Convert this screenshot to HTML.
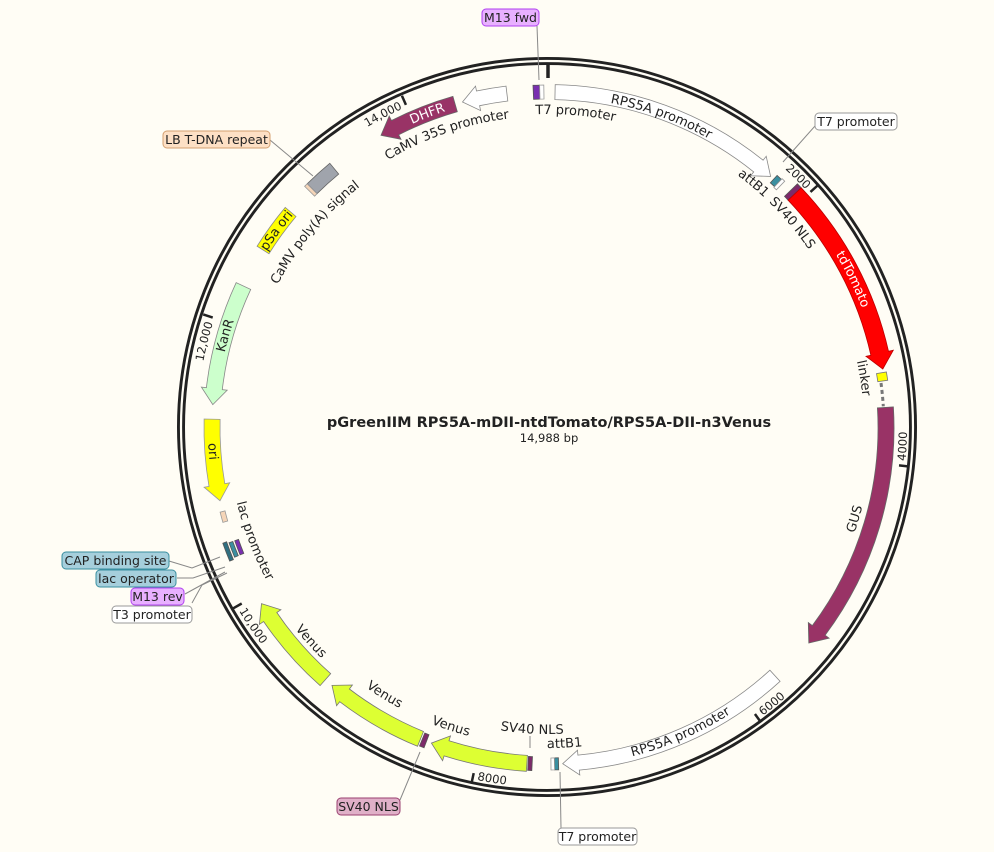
<!DOCTYPE html>
<html><head><meta charset="utf-8">
<style>
html,body{margin:0;padding:0;background:#fffdf5;}
svg{display:block;}
text{font-family:"DejaVu Sans","Liberation Sans",sans-serif;fill:#222;}
.l{font-size:13px;}
.b{font-size:12.5px;}
.t{font-size:11.5px;}
.w{fill:#fff;font-size:13px;}
</style></head>
<body>
<svg id="s" width="994" height="852" viewBox="0 0 994 852" xmlns="http://www.w3.org/2000/svg">
<rect width="994" height="852" fill="#fffdf5"/>
<circle cx="547" cy="427" r="366" fill="none" stroke="#222" stroke-width="8"/>
<circle cx="547" cy="427" r="366" fill="none" stroke="#fffdf5" stroke-width="2.2"/>
<g id="ticks" stroke="#222" stroke-width="2.5"></g>
<defs id="defs"></defs>
<g id="feat" stroke-width="1"></g>
<path id="dash" fill="none" stroke="#777" stroke-width="3" stroke-dasharray="4,3"/>

<g stroke="#888" stroke-width="1" fill="none">
<line x1="537" y1="26" x2="539" y2="80"/>
<line x1="815" y1="126" x2="783" y2="162"/>
<line x1="560" y1="772" x2="561" y2="828"/>
<line x1="530" y1="748" x2="530" y2="736"/>
<line x1="400" y1="800" x2="420" y2="752"/>
<line x1="270" y1="140" x2="313" y2="176"/>
<polyline points="169,561 192,568 220,557"/>
<polyline points="177,578 193,578 225,567"/>
<polyline points="185,594 225,572"/>
<polyline points="192,603 202,585 227,573"/>
</g>

<rect x="482" y="9" width="57" height="17" rx="4" fill="#e8b0ff" stroke="#b040f0"/>
<text class="b" x="510.5" y="22" text-anchor="middle">M13 fwd</text>
<rect x="815" y="113" width="82" height="17" rx="4" fill="#fff" stroke="#999"/>
<text class="b" x="856" y="126" text-anchor="middle">T7 promoter</text>
<rect x="163" y="131" width="107" height="17" rx="4" fill="#fde0c5" stroke="#d4a070"/>
<text class="b" x="216.5" y="144" text-anchor="middle">LB T-DNA repeat</text>
<rect x="62" y="552" width="107" height="17" rx="4" fill="#a6cfdc" stroke="#3a8fa0"/>
<text class="b" x="115.5" y="565" text-anchor="middle">CAP binding site</text>
<rect x="96" y="570" width="80" height="17" rx="4" fill="#a6cfdc" stroke="#3a8fa0"/>
<text class="b" x="136" y="583" text-anchor="middle">lac operator</text>
<rect x="131" y="588" width="53" height="17" rx="4" fill="#e8b0ff" stroke="#b040f0"/>
<text class="b" x="157.5" y="601" text-anchor="middle">M13 rev</text>
<rect x="112" y="606" width="80" height="17" rx="4" fill="#fff" stroke="#999"/>
<text class="b" x="152" y="619" text-anchor="middle">T3 promoter</text>
<rect x="337" y="798" width="63" height="17" rx="4" fill="#e0b0c8" stroke="#9a4070"/>
<text class="b" x="368.5" y="811" text-anchor="middle">SV40 NLS</text>
<rect x="558" y="828" width="79" height="17" rx="4" fill="#fff" stroke="#999"/>
<text class="b" x="597.5" y="841" text-anchor="middle">T7 promoter</text>

<text class="l" dominant-baseline="central"><textPath href="#p_t7a" startOffset="50%" text-anchor="middle">T7 promoter</textPath></text>
<text class="l" dominant-baseline="central"><textPath href="#p_rps1" startOffset="50%" text-anchor="middle">RPS5A promoter</textPath></text>
<text class="l" dominant-baseline="central"><textPath href="#p_att1" startOffset="50%" text-anchor="middle">attB1</textPath></text>
<text class="l" dominant-baseline="central"><textPath href="#p_sv1" startOffset="50%" text-anchor="middle">SV40 NLS</textPath></text>
<text class="w" dominant-baseline="central"><textPath href="#p_td" startOffset="50%" text-anchor="middle">tdTomato</textPath></text>
<text class="l" dominant-baseline="central"><textPath href="#p_link" startOffset="50%" text-anchor="middle">linker</textPath></text>
<text class="l" dominant-baseline="central"><textPath href="#p_gus" startOffset="50%" text-anchor="middle">GUS</textPath></text>
<text class="l" dominant-baseline="central"><textPath href="#p_rps2" startOffset="50%" text-anchor="middle">RPS5A promoter</textPath></text>
<text class="l" dominant-baseline="central"><textPath href="#p_att2" startOffset="50%" text-anchor="middle">attB1</textPath></text>
<text class="l" dominant-baseline="central"><textPath href="#p_sv2" startOffset="50%" text-anchor="middle">SV40 NLS</textPath></text>
<text class="l" dominant-baseline="central"><textPath href="#p_v1" startOffset="50%" text-anchor="middle">Venus</textPath></text>
<text class="l" dominant-baseline="central"><textPath href="#p_v2" startOffset="50%" text-anchor="middle">Venus</textPath></text>
<text class="l" dominant-baseline="central"><textPath href="#p_v3" startOffset="50%" text-anchor="middle">Venus</textPath></text>
<text class="l" dominant-baseline="central"><textPath href="#p_lac" startOffset="50%" text-anchor="middle">lac promoter</textPath></text>
<text class="l" dominant-baseline="central"><textPath href="#p_ori" startOffset="50%" text-anchor="middle">ori</textPath></text>
<text class="l" dominant-baseline="central"><textPath href="#p_kan" startOffset="50%" text-anchor="middle">KanR</textPath></text>
<text class="l" dominant-baseline="central"><textPath href="#p_psa" startOffset="50%" text-anchor="middle">pSa ori</textPath></text>
<text class="l" dominant-baseline="central"><textPath href="#p_camv" startOffset="50%" text-anchor="middle">CaMV poly(A) signal</textPath></text>
<text class="w" dominant-baseline="central"><textPath href="#p_dhfr" startOffset="50%" text-anchor="middle">DHFR</textPath></text>
<text class="l" dominant-baseline="central"><textPath href="#p_35s" startOffset="50%" text-anchor="middle">CaMV 35S promoter</textPath></text>

<text class="t" dominant-baseline="central"><textPath href="#k2000" startOffset="100%" text-anchor="end">2000</textPath></text>
<text class="t" dominant-baseline="central"><textPath href="#k4000" startOffset="0%" text-anchor="start">4000</textPath></text>
<text class="t" dominant-baseline="central"><textPath href="#k6000" startOffset="0%" text-anchor="start">6000</textPath></text>
<text class="t" dominant-baseline="central"><textPath href="#k8000" startOffset="0%" text-anchor="start">8000</textPath></text>
<text class="t" dominant-baseline="central"><textPath href="#k10000" startOffset="0%" text-anchor="start">10,000</textPath></text>
<text class="t" dominant-baseline="central"><textPath href="#k12000" startOffset="100%" text-anchor="end">12,000</textPath></text>
<text class="t" dominant-baseline="central"><textPath href="#k14000" startOffset="100%" text-anchor="end">14,000</textPath></text>

<text x="549" y="427" text-anchor="middle" style="font-size:14.5px;font-weight:bold;">pGreenIIM RPS5A-mDII-ntdTomato/RPS5A-DII-n3Venus</text>
<text x="549" y="442" text-anchor="middle" style="font-size:11.5px;">14,988 bp</text>
</svg>
<script>
(function(){
var NS="http://www.w3.org/2000/svg",cx=548,cy=428;
function P(a,r){var t=a*Math.PI/180;return [cx+r*Math.sin(t),cy-r*Math.cos(t)];}
function pt(a,r){var p=P(a,r);return p[0].toFixed(1)+","+p[1].toFixed(1);}
function band(a1,a2,rc,w,head){
 var ro=rc+w/2,ri=rc-w/2,hw=w/2+5,hl=Math.min(16/rc*57.3,(a2-a1));
 if(head==="cw"){var b=a2-hl;return "M"+pt(a1,ro)+" A"+ro+","+ro+" 0 0 1 "+pt(b,ro)+" L"+pt(b,rc+hw)+" L"+pt(a2,rc)+" L"+pt(b,rc-hw)+" L"+pt(b,ri)+" A"+ri+","+ri+" 0 0 0 "+pt(a1,ri)+"Z";}
 if(head==="ccw"){var b2=a1+hl;return "M"+pt(a2,ro)+" A"+ro+","+ro+" 0 0 0 "+pt(b2,ro)+" L"+pt(b2,rc+hw)+" L"+pt(a1,rc)+" L"+pt(b2,rc-hw)+" L"+pt(b2,ri)+" A"+ri+","+ri+" 0 0 1 "+pt(a2,ri)+"Z";}
 return "M"+pt(a1,ro)+" A"+ro+","+ro+" 0 0 1 "+pt(a2,ro)+" L"+pt(a2,ri)+" A"+ri+","+ri+" 0 0 0 "+pt(a1,ri)+"Z";
}
function tp(a1,a2,r,dir){
 if(dir==="cw")return "M"+pt(a1,r)+" A"+r+","+r+" 0 0 1 "+pt(a2,r);
 return "M"+pt(a2,r)+" A"+r+","+r+" 0 0 0 "+pt(a1,r);
}
var feat=document.getElementById("feat"),defs=document.getElementById("defs"),ticks=document.getElementById("ticks");
function F(a1,a2,rc,w,head,fill,stroke){var p=document.createElementNS(NS,"path");p.setAttribute("d",band(a1,a2,rc,w,head));p.setAttribute("fill",fill);p.setAttribute("stroke",stroke||"#555");p.setAttribute("stroke-width","0.8");feat.appendChild(p);}
function T(id,a1,a2,r,dir){var p=document.createElementNS(NS,"path");p.setAttribute("id",id);p.setAttribute("d",tp(a1,a2,r,dir));p.setAttribute("fill","none");defs.appendChild(p);}
F(357.5,358.6,336,14,null,"#7a2fb0");
F(358.6,359.3,336,14,null,"#fff","#999");
F(1.2,41.5,336,15,"cw","#fff","#888");
F(42.2,43.2,336,10,null,"#3a8fa0");
F(43.2,43.8,336,12,null,"#fff","#999");
F(45.6,46.5,340,18,null,"#7d2a6a");
F(46.5,80,340,18,"cw","#ff0000","#b00");
F(80.6,82,338,10,null,"#ffff00","#777");
F(86.5,129.5,338,16,"cw","#993366","#666");
F(137.5,177.5,336,15,"cw","#fff","#888");
F(178.2,178.9,336,12,null,"#3a8fa0");
F(178.9,179.5,336,12,null,"#fff","#999");
F(182.7,183.4,336,14,null,"#7d2a6a");
F(183.6,200.3,336,16,"cw","#ddff33","#777");
F(201.2,202,336,14,null,"#7d2a6a");
F(202.3,220,336,16,"cw","#ddff33","#777");
F(221.5,238.5,336,16,"cw","#ddff33","#777");
F(247.3,250.5,343,4,null,"#2f6f80");
F(247.6,250.2,337,4,null,"#3a8fa0");
F(247.6,250.2,331,4,null,"#7a2fb0");
F(253.8,255.6,336,5,null,"#f5d5b8","#999");
F(257.5,271.5,336,16,"ccw","#ffff00","#999");
F(274,295,336,16,"ccw","#ccffcc","#888");
F(302,310,336,14,null,"#ffff00","#888");
F(315.4,320.5,336,14,null,"#a0a4ac","#666");
F(314.8,315.4,336,14,null,"#f5d5b8","#999");
F(330.3,344,337,16,"ccw","#993366","#666");
F(345.3,353,337,15,"ccw","#fff","#888");
document.getElementById("dash").setAttribute("d",tp(82.3,86.3,336,"cw"));
[0,48.03,96.08,144.11,192.15,240.19,288.23,336.27].forEach(function(a,i){
 var l=document.createElementNS(NS,"line"),p1=P(a,363),p2=P(a,i===0?350:353);
 l.setAttribute("x1",p1[0]);l.setAttribute("y1",p1[1]);l.setAttribute("x2",p2[0]);l.setAttribute("y2",p2[1]);
 if(i===0)l.setAttribute("stroke-width","3.5");
 ticks.appendChild(l);});
T("k2000",30,47.2,355,"cw");
T("k4000",78,95.3,355,"ccw");
T("k6000",126,143.3,355,"ccw");
T("k8000",174,191.4,355,"ccw");
T("k10000",222,239.4,355,"ccw");
T("k12000",270,287.4,355,"cw");
T("k14000",318,335.5,355,"cw");
T("p_t7a",-10,20,318,"cw");
T("p_rps1",5,35,335,"cw");
T("p_att1",30,50,320,"cw");
T("p_sv1",38,62,320,"cw");
T("p_td",50,78,340,"cw");
T("p_link",70,92,320,"cw");
T("p_gus",95,118,320,"ccw");
T("p_rps2",140,173,335,"ccw");
T("p_att2",168,186,316,"ccw");
T("p_sv2",173,193,302,"ccw");
T("p_v1",188,208,314,"ccw");
T("p_v2",201,222,313,"ccw");
T("p_v3",218,238,319,"ccw");
T("p_lac",236,262,316,"ccw");
T("p_ori",255,277,336,"ccw");
T("p_kan",276,296,336,"cw");
T("p_psa",296,316,336,"cw");
T("p_camv",290,330,310,"cw");
T("p_dhfr",330,348,337,"cw");
T("p_35s",325,357,316,"cw");
})();
</script>
</body></html>
